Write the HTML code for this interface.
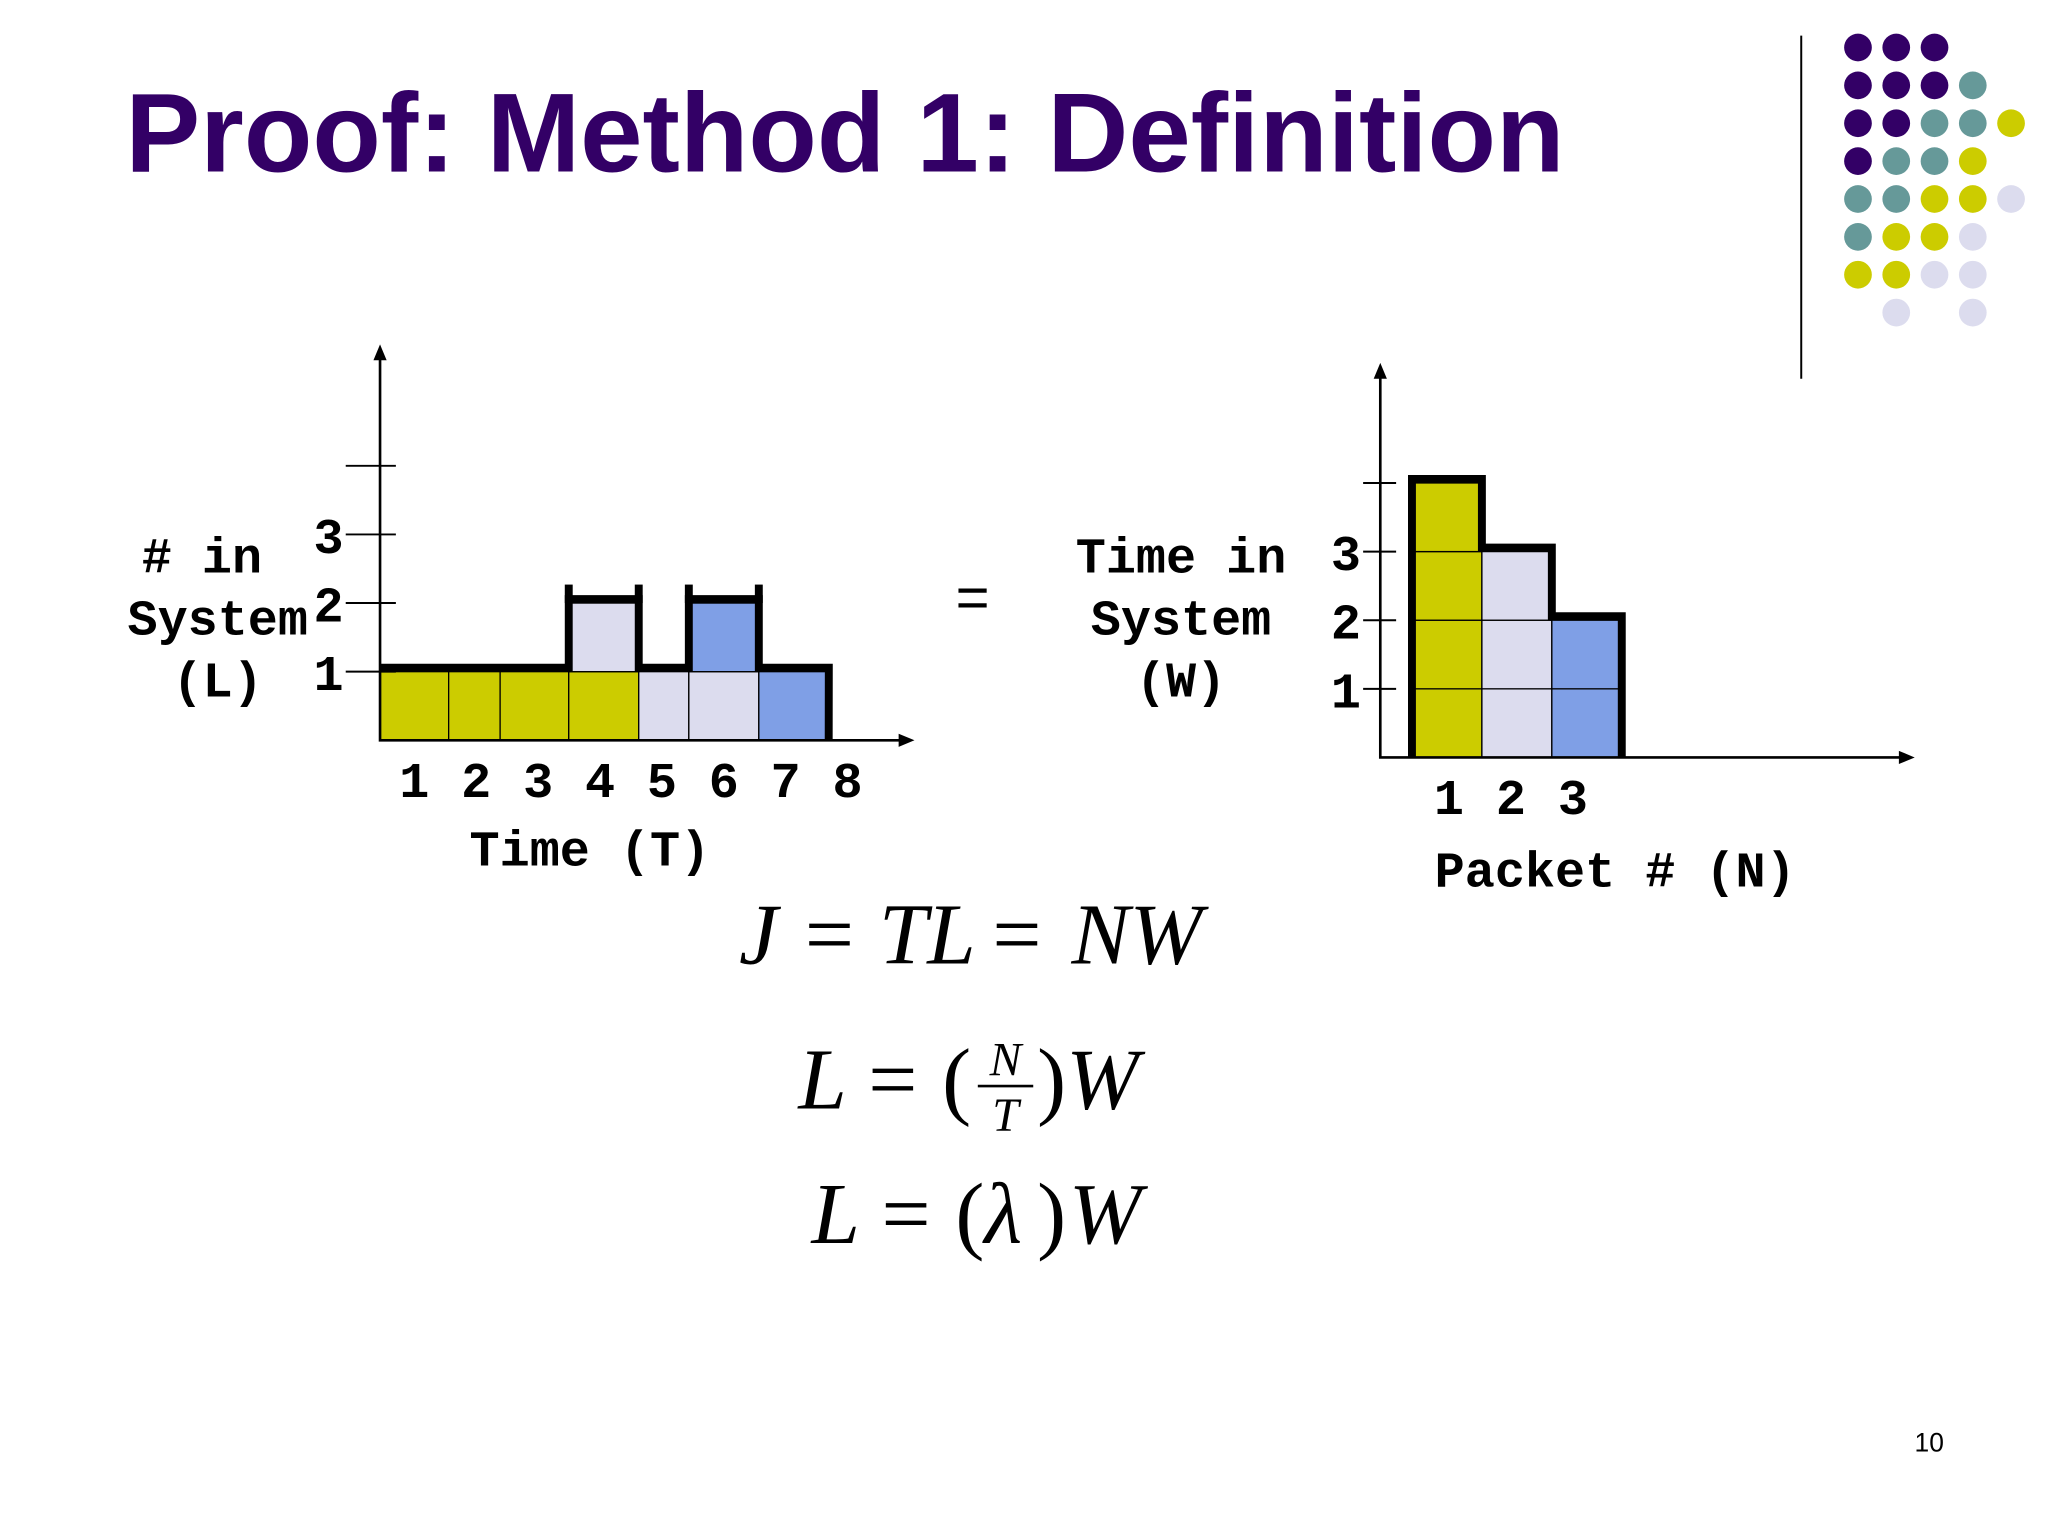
<!DOCTYPE html>
<html><head><meta charset="utf-8"><style>
html,body{margin:0;padding:0;background:#fff;overflow:hidden;}
svg{display:block;}
.mono{font-family:"Liberation Mono","DejaVu Sans Mono",monospace;font-weight:bold;font-size:38px;fill:#000;}
.eq{font-family:"Liberation Serif","DejaVu Serif",serif;font-style:italic;font-size:66px;fill:#000;}
.eqn{font-family:"Liberation Serif","DejaVu Serif",serif;font-size:66px;fill:#000;}
</style></head><body>
<svg id="slide" width="2048" height="1536" viewBox="0 0 1552 1164">
<text x="95" y="130" font-family="Liberation Sans, sans-serif" font-weight="bold" font-size="85" fill="#330066">Proof: Method 1: Definition</text>
<line x1="1365" y1="27" x2="1365" y2="287" stroke="#000" stroke-width="1.5"/>
<g id="dots"></g>

<g id="left"></g>
<g>
<text class="mono" x="153" y="434" text-anchor="middle"># in</text>
<text class="mono" x="165" y="481" text-anchor="middle">System</text>
<text class="mono" x="165" y="528" text-anchor="middle">(L)</text>
</g>
<text class="mono" x="447" y="656" text-anchor="middle">Time (T)</text>

<text x="737" y="468" text-anchor="middle" font-family="Liberation Sans, sans-serif" font-size="44">=</text>

<g>
<text class="mono" x="895" y="434" text-anchor="middle">Time in</text>
<text class="mono" x="895" y="481" text-anchor="middle">System</text>
<text class="mono" x="895" y="528" text-anchor="middle">(W)</text>
</g>
<g id="right"></g>
<text class="mono" x="1224" y="672" text-anchor="middle">Packet # (N)</text>

<g>
<text class="eq" x="560" y="730">J</text><text class="eqn" x="610" y="730">=</text>
<text class="eq" x="666" y="730">TL</text><text class="eqn" x="752" y="730">=</text>
<text class="eq" x="812" y="730">NW</text>
</g>
<g>
<text class="eq" x="605" y="840">L</text><text class="eqn" x="658" y="840">=</text>
<text class="eqn" x="714" y="840">(</text>
<text x="762" y="815" text-anchor="middle" style="font-family:'Liberation Serif',serif;font-style:italic;font-size:36px;">N</text>
<line x1="741" y1="823" x2="783" y2="823" stroke="#000" stroke-width="2"/>
<text x="762" y="857" text-anchor="middle" style="font-family:'Liberation Serif',serif;font-style:italic;font-size:36px;">T</text>
<text class="eqn" x="786" y="840">)</text><text class="eq" x="808" y="840">W</text>
</g>
<g>
<text class="eq" x="615" y="942">L</text><text class="eqn" x="668" y="942">=</text>
<text class="eqn" x="724" y="942">(</text><text class="eq" x="746" y="942">λ</text>
<text class="eqn" x="786" y="942">)</text><text class="eq" x="810" y="942">W</text>
</g>
<text x="1462" y="1100" text-anchor="middle" font-family="Liberation Sans, sans-serif" font-size="20">10</text>
</svg>
<script>
const NS='http://www.w3.org/2000/svg';
// left chart data
const tBounds=[0,1,1.75,2.75,3.77,4.5,5.52,6.54];
const counts=[1,1,1,2,1,2,1];
const bottomColors=['#cccc00','#cccc00','#cccc00','#cccc00','#dcdcee','#dcdcee','#7f9fe6'];
const topColors=[null,null,null,'#dcdcee',null,'#7f9fe6',null];
const leftTicks=['1','2','3'];
const leftXLabels=['1','2','3','4','5','6','7','8'];
// right chart data
const packets=['1','2','3'];
const waits=[4,3,2];
const packetColors=['#cccc00','#dcdcee','#7f9fe6'];
const rightTicks=['1','2','3'];
// dots
const dotRows=[
 ['P','P','P','',''],['P','P','P','T',''],['P','P','T','T','Y'],['P','T','T','Y',''],
 ['T','T','Y','Y','L'],['T','Y','Y','L',''],['Y','Y','L','L',''],['','L','','L','']];

function mk(tag,attrs,parent){const e=document.createElementNS(NS,tag);for(const k in attrs)e.setAttribute(k,attrs[k]);parent.appendChild(e);return e;}

const dotCol={P:'#330066',T:'#669999',Y:'#cccc00',L:'#dcdcee'};
const dg=document.getElementById('dots');
dotRows.forEach((r,i)=>r.forEach((c,j)=>{if(!c)return;
 const d=mk('circle',{cx:1408+j*29,cy:36+i*28.7,r:10.5,fill:dotCol[c]},dg);
 
 
}));

// left chart
const L=document.getElementById('left');
const lx=t=>288+t*52, ly=v=>561-v*52;
for(let i=0;i<counts.length;i++){
 const x0=lx(tBounds[i]), x1=i+1<tBounds.length?lx(tBounds[i+1]):628;
 const b=mk('rect',{x:x0,y:ly(1),width:x1-x0,height:52,fill:bottomColors[i],stroke:'#000','stroke-width':1},L);
 
 
 if(counts[i]>=2&&topColors[i]){
  const t=mk('rect',{x:x0,y:ly(2),width:x1-x0,height:52,fill:topColors[i],stroke:'#000','stroke-width':1},L);
  
  
 }
}
let d='M'+lx(0)+','+(ly(counts[0])-3);
for(let i=0;i<counts.length;i++){
 const x0=lx(tBounds[i]), x1=i+1<tBounds.length?lx(tBounds[i+1]):628;
 const yy=ly(counts[i])-3;
 d+=' L'+x0+','+yy+' L'+x1+','+yy;
}
d+=' L628,561';
const ol=mk('path',{d:d,fill:'none',stroke:'#000','stroke-width':6,'stroke-linejoin':'miter'},L);


for(let i=0;i<counts.length;i++){ if(counts[i]<2)continue;
 const x0=lx(tBounds[i]), x1=lx(tBounds[i+1]);
 [x0,x1].forEach(x=>{const e=mk('line',{x1:x,y1:ly(counts[i])-14,x2:x,y2:ly(counts[i]),stroke:'#000','stroke-width':6},L);
  
  });
}
const lax=mk('path',{d:'M288,270 L288,561 L684,561',fill:'none',stroke:'#000','stroke-width':2},L);


mk('path',{d:'M288,261 L283,273 L293,273 Z M693,561 L681,556 L681,566 Z',fill:'#000'},L);
mk('line',{x1:262,y1:ly(4),x2:300,y2:ly(4),stroke:'#000','stroke-width':1.5},L);
leftTicks.forEach((t,i)=>{
 const v=i+1;
 mk('line',{x1:262,y1:ly(v),x2:300,y2:ly(v),stroke:'#000','stroke-width':1.5},L);
 const tx=mk('text',{x:249,y:ly(v)+14,'text-anchor':'middle',class:'mono'},L);tx.textContent=t;
 
 
});
leftXLabels.forEach((t,i)=>{
 const tx=mk('text',{x:314+i*46.9,y:604,'text-anchor':'middle',class:'mono'},L);tx.textContent=t;
 
 
});

// right chart
const R=document.getElementById('right');
const rx=n=>1070+n*53, ry=v=>574-v*52;
waits.forEach((w,i)=>{
 for(let k=0;k<w;k++){
  const c=mk('rect',{x:rx(i),y:ry(k+1),width:53,height:52,fill:packetColors[i],stroke:'#000','stroke-width':1},R);
  
  
 }
});
let rd='M'+rx(0)+',574';
waits.forEach((w,i)=>{rd+=' L'+rx(i)+','+(ry(w)-3)+' L'+rx(i+1)+','+(ry(w)-3);});
rd+=' L'+rx(waits.length)+',574';
const ro=mk('path',{d:rd,fill:'none',stroke:'#000','stroke-width':6},R);


const rax=mk('path',{d:'M1046,284 L1046,574 L1442,574',fill:'none',stroke:'#000','stroke-width':2},R);


mk('path',{d:'M1046,275 L1041,287 L1051,287 Z M1451,574 L1439,569 L1439,579 Z',fill:'#000'},R);
mk('line',{x1:1033,y1:ry(4),x2:1058,y2:ry(4),stroke:'#000','stroke-width':1.5},R);
rightTicks.forEach((t,i)=>{
 const v=i+1;
 mk('line',{x1:1033,y1:ry(v),x2:1058,y2:ry(v),stroke:'#000','stroke-width':1.5},R);
 const tx=mk('text',{x:1020,y:ry(v)+14,'text-anchor':'middle',class:'mono'},R);tx.textContent=t;
 
 
});
packets.forEach((p,i)=>{
 const tx=mk('text',{x:1098+i*47,y:617,'text-anchor':'middle',class:'mono'},R);tx.textContent=p;
 
 
});
</script>
</body></html>
